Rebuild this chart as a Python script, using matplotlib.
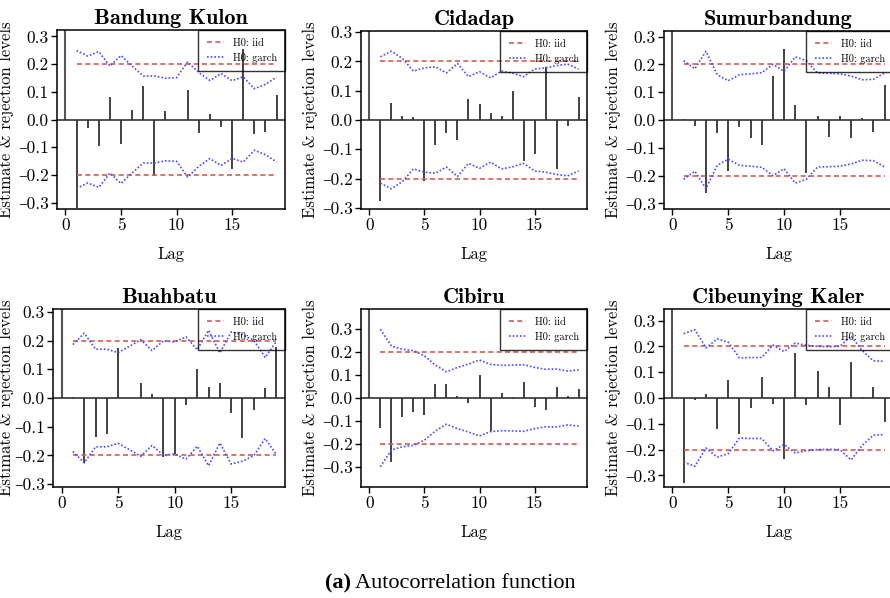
import numpy as np
import matplotlib
matplotlib.use('Agg')
import matplotlib.pyplot as plt

plt.rcParams['font.family'] = ['cmr10', 'DejaVu Serif']
plt.rcParams['mathtext.fontset'] = 'cm'
plt.rcParams['axes.formatter.use_mathtext'] = True

# sample autocorrelations (lags 1..19, lag 0 = 1) and garch rejection levels
titles = ['Bandung Kulon', 'Cidadap', 'Sumurbandung',
          'Buahbatu', 'Cibiru', 'Cibeunying Kaler']

acf_bandung_kulon = [-0.32, -0.03, -0.094, 0.082, -0.087, 0.034, 0.122, -0.205, 0.031, -0.003,
                     0.108, -0.05, 0.019, -0.027, -0.18, 0.253, -0.054, -0.045, 0.09]
acf_cidadap = [-0.278, 0.059, 0.012, 0.009, -0.21, -0.084, -0.045, -0.068, 0.072, 0.055,
               0.024, 0.014, 0.10, -0.14, -0.116, 0.18, -0.166, -0.019, 0.08]
acf_sumurbandung = [0.002, -0.022, -0.263, -0.046, -0.183, -0.024, -0.063, -0.09, 0.159, 0.257,
                    0.053, -0.189, 0.014, -0.06, 0.014, -0.066, 0.006, -0.042, 0.125]
acf_buahbatu = [0.005, -0.225, -0.137, -0.126, 0.173, -0.001, 0.051, 0.015, -0.207, -0.195,
                -0.023, 0.102, 0.04, 0.051, -0.053, -0.141, -0.042, 0.035, 0.179]
acf_cibiru = [-0.132, -0.277, -0.081, -0.061, -0.075, 0.061, 0.061, 0.007, -0.023, 0.099,
              -0.142, 0.023, -0.004, 0.068, -0.041, -0.052, 0.049, 0.009, 0.041]
acf_cibeunying_kaler = [-0.33, -0.008, 0.014, -0.122, 0.07, -0.14, -0.038, 0.082, -0.023, -0.238,
                        0.175, -0.026, 0.105, 0.043, -0.103, 0.14, 0.003, 0.044, -0.092]

garch_bandung_kulon = [0.249, 0.229, 0.245, 0.193, 0.231, 0.193, 0.157, 0.157, 0.149, 0.151,
                       0.208, 0.169, 0.141, 0.166, 0.140, 0.154, 0.111, 0.127, 0.153]
garch_cidadap = [0.216, 0.235, 0.21, 0.167, 0.178, 0.182, 0.161, 0.193, 0.148, 0.165,
                 0.144, 0.167, 0.16, 0.148, 0.174, 0.178, 0.186, 0.191, 0.174]
garch_sumurbandung = [0.213, 0.184, 0.247, 0.163, 0.141, 0.163, 0.166, 0.17, 0.20, 0.175,
                      0.227, 0.213, 0.169, 0.168, 0.166, 0.158, 0.145, 0.146, 0.169]
garch_buahbatu = [0.186, 0.226, 0.17, 0.17, 0.158, 0.18, 0.203, 0.165, 0.199, 0.195,
                  0.213, 0.168, 0.236, 0.157, 0.23, 0.22, 0.201, 0.141, 0.197]
garch_cibiru = [0.299, 0.226, 0.212, 0.206, 0.183, 0.143, 0.114, 0.133, 0.148, 0.165,
                0.146, 0.142, 0.143, 0.145, 0.133, 0.125, 0.126, 0.117, 0.122]
garch_cibeunying_kaler = [0.249, 0.265, 0.194, 0.229, 0.216, 0.155, 0.157, 0.157, 0.205, 0.18,
                          0.213, 0.204, 0.2, 0.199, 0.2, 0.24, 0.184, 0.144, 0.142]

iid_level = 0.2

acfs = [acf_bandung_kulon, acf_cidadap, acf_sumurbandung,
        acf_buahbatu, acf_cibiru, acf_cibeunying_kaler]
garchs = [garch_bandung_kulon, garch_cidadap, garch_sumurbandung,
          garch_buahbatu, garch_cibiru, garch_cibeunying_kaler]
ylims = [0.323, 0.304, 0.32, 0.31, 0.387, 0.345]
ytick_vals = [-0.3, -0.2, -0.1, 0.0, 0.1, 0.2, 0.3]

W, H = 890, 598
fig = plt.figure(figsize=(W / 100, H / 100), dpi=100)

# axes boxes in pixels: left, right, top, bottom
boxes = [(57, 285, 30, 209), (361, 587, 31, 209), (664, 893, 31, 209),
         (53, 285, 309, 487), (361, 587, 309, 487), (664, 893, 309, 487)]
ylab_x = [-0.189, -0.192, -0.188, -0.168, -0.19, -0.188]

lags = np.arange(1, 20)
for i in range(6):
    l, r, t, b = boxes[i]
    ax = fig.add_axes([l / W, 1 - b / H, (r - l) / W, (b - t) / H])
    ax.vlines(0, 0, 1, color='#555555', lw=1.5)
    ax.vlines(lags, 0, acfs[i], color='#333333', lw=1.3)
    ax.axhline(0, color='#333333', lw=1.2)
    ax.plot(lags, [iid_level] * 19, color='#d65a56', ls=(0, (3, 2)), lw=1.2, label='H0: iid')
    ax.plot(lags, [-iid_level] * 19, color='#d65a56', ls=(0, (3, 2)), lw=1.2)
    g = np.array(garchs[i])
    ax.plot(lags, g, color='#4a4aff', ls=(0, (1, 1.2)), lw=1.2, label='H0: garch')
    ax.plot(lags, -g, color='#4a4aff', ls=(0, (1, 1.2)), lw=1.2)
    ax.set_xlim(-0.76, 19.76)
    ax.set_ylim(-ylims[i], ylims[i])
    ax.set_xticks([0, 5, 10, 15])
    ax.set_xticklabels(['0', '5', '10', '15'])
    ax.set_yticks(ytick_vals)
    ax.set_yticklabels([('%.1f' % v).replace('-', '\u2013') for v in ytick_vals])
    ax.tick_params(direction='out', length=4, width=1, labelsize=12.5, pad=2)
    for s in ax.spines.values():
        s.set_linewidth(1.1)
    ax.set_title(titles[i], fontfamily='cmb10', fontsize=16, pad=4)
    ax.set_xlabel('Lag', fontsize=12, labelpad=10)
    ax.set_ylabel('Estimate & rejection levels', fontsize=12)
    ax.yaxis.set_label_coords(ylab_x[i], 0.5)
    leg = ax.legend(loc='upper right', fontsize=7.5, frameon=True, fancybox=False,
                    borderaxespad=0, handlelength=1.7, handletextpad=0.8,
                    borderpad=0.8, labelspacing=0.45)
    leg.get_frame().set_edgecolor('black')
    leg.get_frame().set_facecolor('none')
    leg.get_frame().set_linewidth(1.0)

fig.text(325 / W, 1 - 583 / H, '(a)', fontfamily='Liberation Serif', fontweight='bold',
         fontsize=16, ha='left', va='center')
fig.text(355 / W, 1 - 583 / H, 'Autocorrelation function', fontfamily='Liberation Serif',
         fontsize=16, ha='left', va='center')

fig.savefig('out.png', dpi=100)
